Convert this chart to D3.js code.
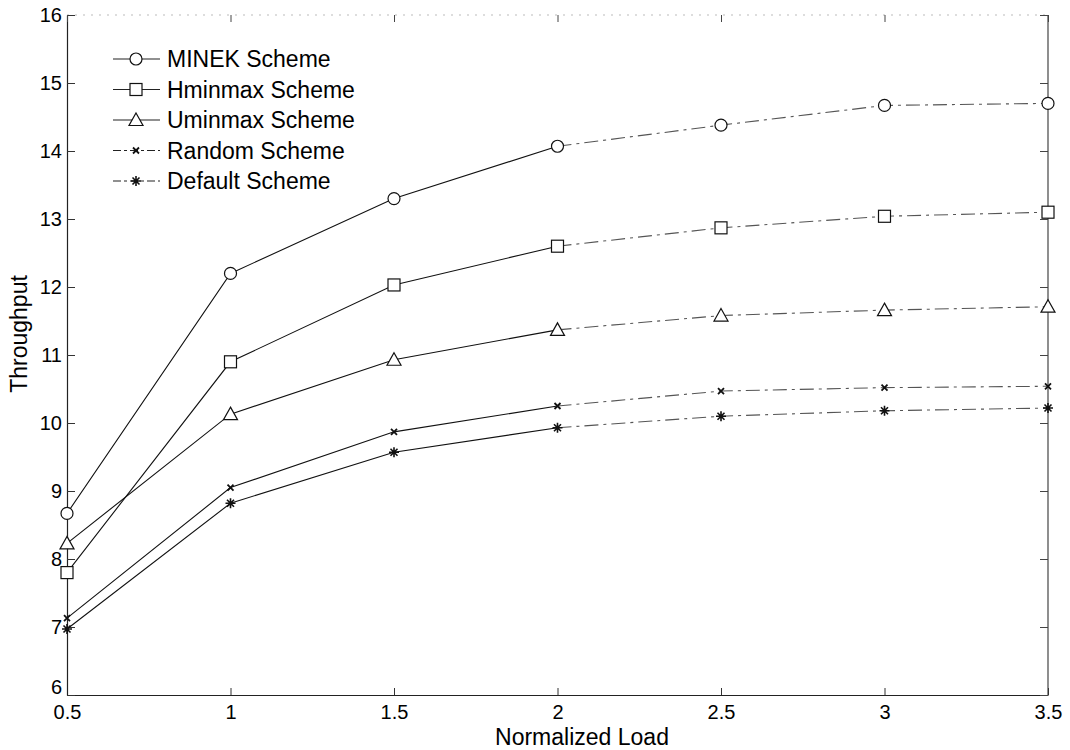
<!DOCTYPE html>
<html><head><meta charset="utf-8">
<script src="https://cdn.jsdelivr.net/npm/d3@7"></script>
<style>body{margin:0;background:#fff}svg{display:block}text{font-family:"Liberation Sans",Arial,sans-serif;fill:#000}</style>
</head><body><svg id="c" width="1070" height="750"></svg>
<script>
const loads = [0.5, 1, 1.5, 2, 2.5, 3, 3.5];
const minek = [8.67, 12.2, 13.3, 14.07, 14.38, 14.67, 14.7];
const hminmax = [7.8, 10.9, 12.03, 12.6, 12.87, 13.04, 13.1];
const uminmax = [8.23, 10.13, 10.93, 11.37, 11.58, 11.66, 11.71];
const random = [7.13, 9.05, 9.87, 10.25, 10.47, 10.52, 10.54];
const deflt = [6.97, 8.82, 9.57, 9.93, 10.1, 10.18, 10.22];
const seriesNames = ["MINEK Scheme", "Hminmax Scheme", "Uminmax Scheme", "Random Scheme", "Default Scheme"];
const markers = ["circle", "square", "triangle", "x", "star"];
const xTicks = [0.5, 1, 1.5, 2, 2.5, 3, 3.5];
const yTicks = [6, 7, 8, 9, 10, 11, 12, 13, 14, 15, 16];

const allSeries = [minek, hminmax, uminmax, random, deflt];
const svg = d3.select("#c");
const L = 67, R = 1048, T = 15, B = 695;
const x = d3.scaleLinear().domain([0.5, 3.5]).range([L, R]);
const y = d3.scaleLinear().domain([6, 16]).range([B, T]);

// box
svg.append("line").attr("x1", L).attr("x2", R).attr("y1", T).attr("y2", T)
  .attr("stroke", "#bbb").attr("stroke-dasharray", "2,6");
svg.append("line").attr("x1", R).attr("x2", R).attr("y1", T).attr("y2", B).attr("stroke", "#444").attr("stroke-width", 1.2);

// axes
const xAxis = d3.axisBottom(x).tickValues(xTicks).tickFormat(d3.format("")).tickSizeInner(-7).tickSizeOuter(0).tickPadding(12);
const gx = svg.append("g").attr("transform", `translate(0,${B})`).call(xAxis);
gx.selectAll("text").attr("font-size", 20).attr("dy", "0.6em");
const yAxis = d3.axisLeft(y).tickValues(yTicks).tickSizeInner(-8).tickSizeOuter(0).tickPadding(5);
const gy = svg.append("g").attr("transform", `translate(${L},0)`).call(yAxis);
gy.selectAll("text").attr("font-size", 20);
gy.selectAll(".tick").filter(d => d === 6).select("text").attr("dy", "-0.08em");
[gx, gy].forEach(g => { g.select(".domain").attr("stroke", "#222").attr("stroke-width", 1.2); g.selectAll(".tick line").attr("stroke", "#333"); });
// top & right ticks
const gt = svg.append("g").attr("transform", `translate(0,${T})`).call(d3.axisTop(x).tickValues(xTicks).tickSizeInner(-7).tickSizeOuter(0).tickFormat(""));
gt.select(".domain").remove(); gt.selectAll(".tick line").attr("stroke", "#444");
const gr = svg.append("g").attr("transform", `translate(${R},0)`).call(d3.axisRight(y).tickValues(yTicks).tickSizeInner(-8).tickSizeOuter(0).tickFormat(""));
gr.select(".domain").remove(); gr.selectAll(".tick line").attr("stroke", "#444");

// labels
svg.append("text").attr("x", 582).attr("y", 745).attr("text-anchor", "middle").attr("font-size", 23).text("Normalized Load");
svg.append("text").attr("transform", `translate(27,334) rotate(-90)`).attr("text-anchor", "middle").attr("font-size", 23).text("Throughput");

const line = d3.line().x(d => x(d[0])).y(d => y(d[1]));
function marker(g, type, cx, cy) {
  const s = g.append("g").attr("transform", `translate(${cx},${cy})`).attr("fill", "none").attr("stroke", "#111").attr("stroke-width", 1.2);
  if (type === "circle") s.append("circle").attr("r", 6).attr("fill", "#fff");
  else if (type === "square") s.append("rect").attr("x", -6).attr("y", -6).attr("width", 12).attr("height", 12).attr("fill", "#fff");
  else if (type === "triangle") s.append("path").attr("d", "M0,-7L7,5.5L-7,5.5Z").attr("fill", "#fff");
  else if (type === "x") s.append("path").attr("d", "M-3,-3L3,3M-3,3L3,-3").attr("stroke-width", 1.8);
  else s.append("path").attr("d", "M0,-5V5M-5,0H5M-3.5,-3.5L3.5,3.5M-3.5,3.5L3.5,-3.5").attr("stroke-width", 1.6);
}
allSeries.forEach((vals, i) => {
  const pts = loads.map((l, j) => [l, vals[j]]);
  svg.append("path").attr("d", line(pts.slice(0, 4))).attr("fill", "none").attr("stroke", "#111").attr("stroke-width", 1.1);
  svg.append("path").attr("d", line(pts.slice(3))).attr("fill", "none").attr("stroke", "#555").attr("stroke-width", 1.1)
    .attr("stroke-dasharray", "14,5,3,5");
  pts.forEach(p => marker(svg, markers[i], x(p[0]), y(p[1])));
});

// legend
const lg = svg.append("g");
seriesNames.forEach((n, i) => {
  const yy = 59 + i * 30.5;
  lg.append("line").attr("x1", 113).attr("x2", 160).attr("y1", yy).attr("y2", yy).attr("stroke", "#222").attr("stroke-width", 1.1)
    .attr("stroke-dasharray", i >= 3 ? "8,3,3,3" : null);
  marker(lg, markers[i], 136, yy);
  lg.append("text").attr("x", 167).attr("y", yy).attr("dy", "0.36em").attr("font-size", 23).text(n);
});
</script></body></html>
